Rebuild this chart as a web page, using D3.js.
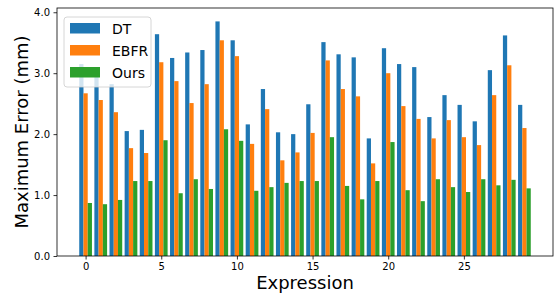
<html>
<head>
  <script src="https://d3js.org/d3.v7.min.js"></script>
  <style>
  body { margin: 0; background: #fff; }
  text { font-family: "DejaVu Sans", sans-serif; }
  </style>
</head>
<body>
  <div id="chart"></div>

<script>
var width = 558,
  height = 295;

var expressions = d3.range(30);
var seriesNames = ["DT", "EBFR", "Ours"];
var colors = ["#1f77b4", "#ff7f0e", "#2ca02c"];

var dtValues = [3.15, 3.02, 2.82, 2.05, 2.07, 3.64, 3.25, 3.34, 3.38, 3.85,
                3.54, 2.16, 2.74, 2.03, 2.00, 2.49, 3.51, 3.31, 3.26, 1.93,
                3.41, 3.15, 3.10, 2.28, 2.64, 2.48, 2.21, 3.05, 3.62, 2.48];
var ebfrValues = [2.67, 2.56, 2.36, 1.77, 1.69, 3.18, 2.87, 2.51, 2.82, 3.54,
                  3.28, 1.84, 2.41, 1.57, 1.70, 2.02, 3.21, 2.74, 2.62, 1.52,
                  3.00, 2.46, 2.25, 1.93, 2.23, 1.95, 1.82, 2.64, 3.13, 2.10];
var oursValues = [0.87, 0.85, 0.92, 1.23, 1.23, 1.90, 1.03, 1.26, 1.10, 2.08,
                  1.89, 1.07, 1.13, 1.20, 1.23, 1.23, 1.95, 1.15, 0.93, 1.23,
                  1.87, 1.08, 0.90, 1.26, 1.13, 1.05, 1.26, 1.16, 1.25, 1.11];
var xTicks = [0, 5, 10, 15, 20, 25];
var yTicks = [0, 1, 2, 3, 4];

var allSeries = [dtValues, ebfrValues, oursValues];

var margin = {left: 57, right: 5, top: 8, bottom: 39};
var plotW = width - margin.left - margin.right,
  plotH = height - margin.top - margin.bottom;

var svg = d3.select("#chart").append("svg")
    .attr("width", width)
    .attr("height", height);

var g = svg.append("g")
    .attr("transform", "translate(" + margin.left + "," + margin.top + ")");

var barW = 0.28;
var x = d3.scaleLinear().domain([-1.89, 30.89]).range([0, plotW]);
var y = d3.scaleLinear().domain([0, 4.07]).range([plotH, 0]);

// bars
allSeries.forEach(function(vals, s){
  g.selectAll("rect.s" + s).data(vals).enter().append("rect")
    .attr("class", "s" + s)
    .attr("x", function(d, i){ return x(expressions[i] + (s - 1) * barW - barW / 2); })
    .attr("width", function(){ return x(barW) - x(0); })
    .attr("y", function(d){ return y(d); })
    .attr("height", function(d){ return y(0) - y(d); })
    .attr("fill", colors[s]);
});

// axes
var xAxis = g.append("g")
    .attr("transform", "translate(0," + plotH + ")")
    .call(d3.axisBottom(x).tickValues(xTicks).tickSize(3.5).tickPadding(3.5).tickFormat(d3.format("d")));
var yAxis = g.append("g")
    .call(d3.axisLeft(y).tickValues(yTicks).tickSize(3.5).tickPadding(3.5).tickFormat(d3.format(".1f")));

[xAxis, yAxis].forEach(function(a){
  a.select(".domain").remove();
  a.selectAll("text").attr("font-size", "10px").attr("fill", "#000")
    .style("font-family", "DejaVu Sans");
  a.selectAll("line").attr("stroke", "#000").attr("stroke-width", 0.8);
});

// frame
g.append("rect")
  .attr("width", plotW).attr("height", plotH)
  .attr("fill", "none").attr("stroke", "#000").attr("stroke-width", 0.8);

// labels
svg.append("text")
  .attr("x", margin.left + plotW / 2)
  .attr("y", 289)
  .attr("text-anchor", "middle")
  .attr("font-size", "18px")
  .text("Expression");

svg.append("text")
  .attr("transform", "translate(28," + (margin.top + plotH / 2) + ") rotate(-90)")
  .attr("text-anchor", "middle")
  .attr("font-size", "18px")
  .text("Maximum Error (mm)");

// legend
var legend = svg.append("g").attr("transform", "translate(64,17)");
legend.append("rect")
  .attr("width", 87).attr("height", 70).attr("rx", 3)
  .attr("fill", "#fff").attr("fill-opacity", 0.8)
  .attr("stroke", "#ccc").attr("stroke-width", 0.8);

seriesNames.forEach(function(name, i){
  legend.append("rect")
    .attr("x", 6).attr("y", 6 + i * 22)
    .attr("width", 30).attr("height", 10.5)
    .attr("fill", colors[i]);
  legend.append("text")
    .attr("x", 48).attr("y", 16.5 + i * 22)
    .attr("font-size", "14px")
    .text(name);
});
</script>

</body></html>
